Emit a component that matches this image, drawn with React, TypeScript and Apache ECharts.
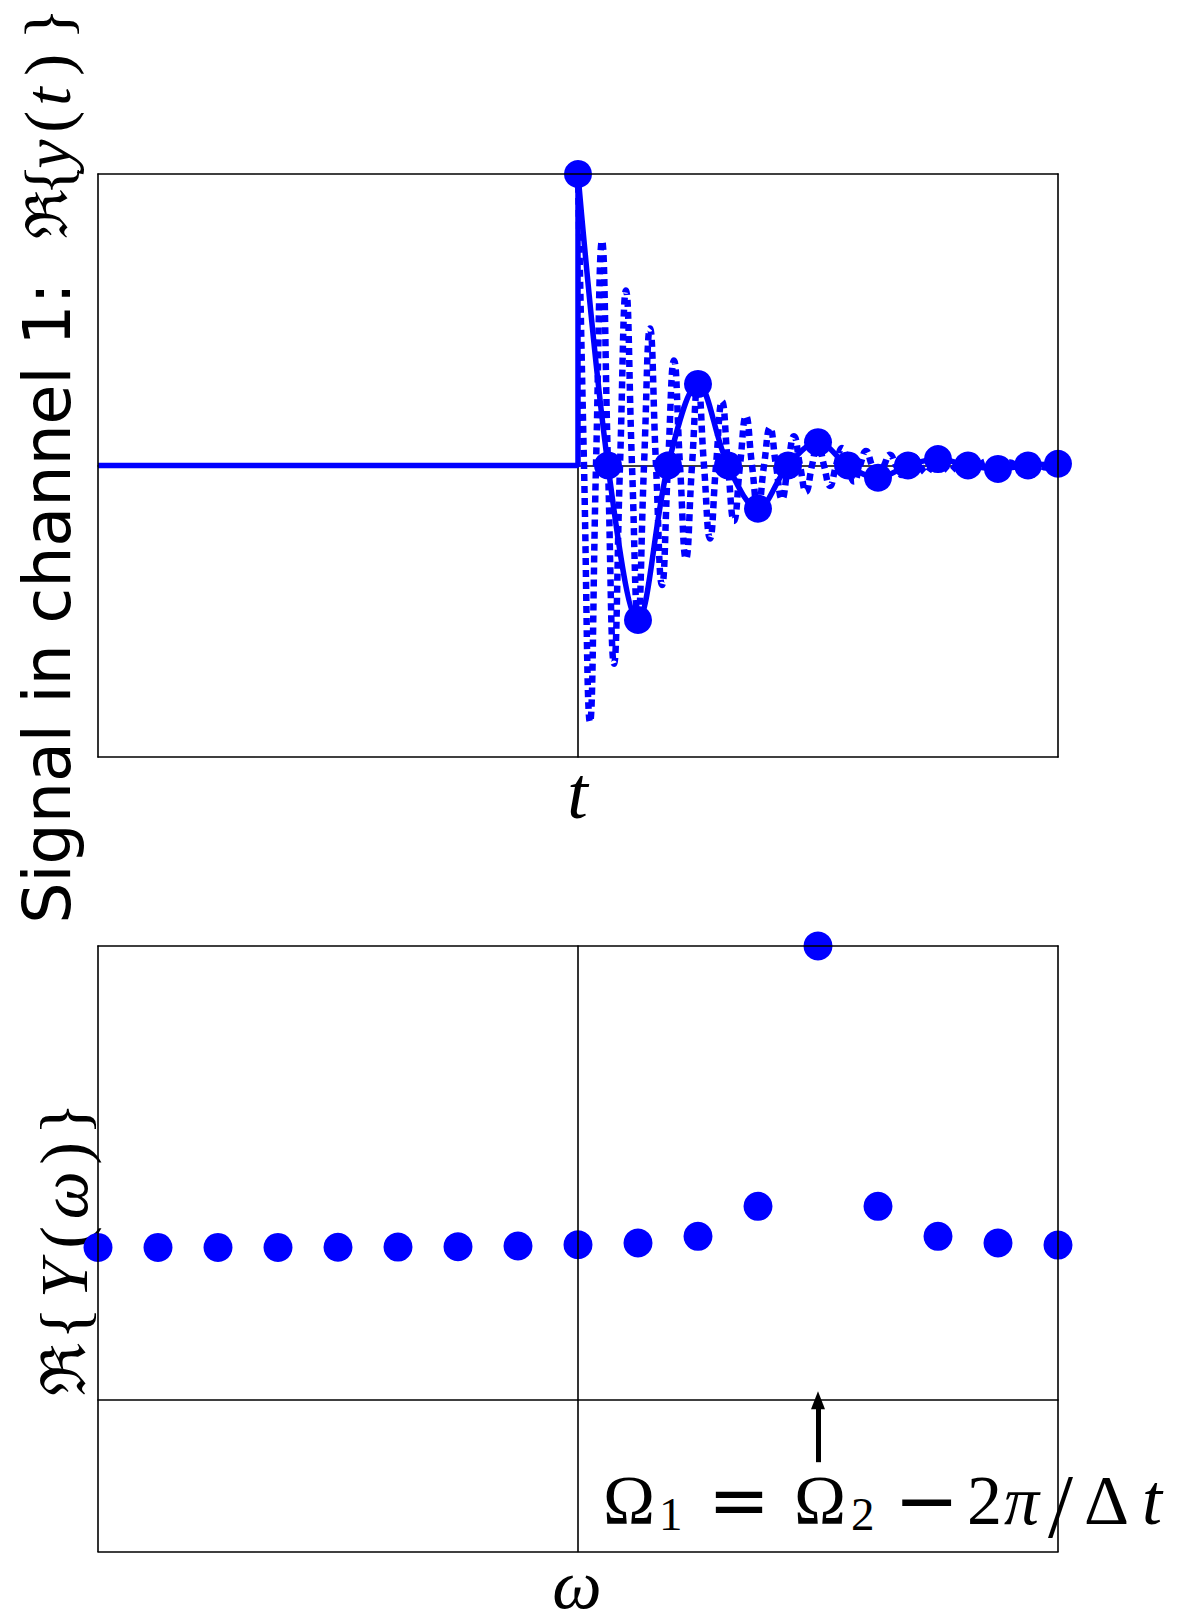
import React, { useEffect, useRef } from "react";
import * as echarts from "echarts";

// ---------- data ----------
// top panel: sampled points y[n] (n = 0..16, in units of Δt)
const sampleT = [0, 1, 2, 3, 4, 5, 6, 7, 8, 9, 10, 11, 12, 13, 14, 15, 16];
const sampleY = [1.0, 0, -0.53, 0, 0.28, 0, -0.148, 0, 0.08, 0, -0.042, 0, 0.022, 0, -0.012, 0, 0.006];
// signal before t = 0 and the jump at t = 0
const preT = [-16, 0, 0];
const preY = [0, 0, 1];
// continuous (fast) signal: extrema and zero crossings
const dashT = [
  0, 0.2, 0.4, 0.6, 0.8, 1.0, 1.2, 1.4, 1.6, 1.8, 2.0, 2.2, 2.4, 2.6, 2.8, 3.0, 3.2, 3.4, 3.6, 3.8,
  4.0, 4.2, 4.4, 4.6, 4.8, 5.0, 5.2, 5.4, 5.6, 5.8, 6.0, 6.2, 6.4, 6.6, 6.8, 7.0, 7.2, 7.4, 7.6, 7.8,
  8.0, 8.2, 8.4, 8.6, 8.8, 9.0, 9.2, 9.4, 9.6, 9.8, 10.0, 10.2, 10.4, 10.6, 10.8, 11.0, 11.2, 11.4, 11.6, 11.8,
  12.0, 12.2, 12.4, 12.6, 12.8, 13.0, 13.2, 13.4, 13.6, 13.8, 14.0, 14.2, 14.4, 14.6, 14.8, 15.0, 15.2, 15.4, 15.6, 15.8,
  16.0,
];
const dashY = [
  1.0, 0, -0.88, 0, 0.77, 0, -0.68, 0, 0.6, 0, -0.53, 0, 0.47, 0, -0.41, 0, 0.36, 0, -0.32, 0,
  0.28, 0, -0.25, 0, 0.22, 0, -0.19, 0, 0.17, 0, -0.15, 0, 0.13, 0, -0.115, 0, 0.1, 0, -0.09, 0,
  0.08, 0, -0.07, 0, 0.06, 0, -0.055, 0, 0.05, 0, -0.042, 0, 0.037, 0, -0.033, 0, 0.029, 0, -0.025, 0,
  0.022, 0, -0.019, 0, 0.017, 0, -0.015, 0, 0.013, 0, -0.012, 0, 0.01, 0, -0.009, 0, 0.008, 0, -0.007, 0,
  0.006,
];
// bottom panel: real part of the spectrum
const omega = [-8, -7, -6, -5, -4, -3, -2, -1, 0, 1, 2, 3, 4, 5, 6, 7, 8];
const spectrum = [1.009, 1.009, 1.009, 1.009, 1.01, 1.011, 1.013, 1.018, 1.026, 1.038, 1.082, 1.28, 3.0, 1.28, 1.082, 1.038, 1.024];
// annotation arrow (ω position, start value, end value)
const arrowOmega = 4;
const arrowFrom = -0.41;
const arrowTo = 0;

const topXRange = [-16, 16];
const topYRange = [-1, 1];
const botXRange = [-8, 8];
const botYRange = [-1, 3];

const BLUE = "#0000ff";
const SERIF = "'Liberation Serif', 'DejaVu Serif', serif";
const SANS = "'DejaVu Sans', sans-serif";

function axis(gridIndex: number, position: string, range: number[], onZero: boolean, z: number) {
  return {
    gridIndex,
    type: "value",
    position,
    min: range[0],
    max: range[1],
    axisLine: { show: true, onZero, lineStyle: { color: "#000", width: 1.6 } },
    axisTick: { show: false },
    axisLabel: { show: false },
    splitLine: { show: false },
    z,
  };
}

export default function App() {
  const ref = useRef<HTMLDivElement>(null);
  useEffect(() => {
    document.body.style.margin = "0";
    const chart = echarts.init(ref.current as HTMLDivElement, null, { renderer: "svg" });

    const preData = preT.map((t, i) => [t, preY[i]]);
    const sampledData = sampleT.map((t, i) => [t, sampleY[i]]);
    const dashData = dashT.map((t, i) => [t, dashY[i]]);
    const specData = omega.map((w, i) => [w, spectrum[i]]);

    const option: any = {
      animation: false,
      backgroundColor: "#fff",
      grid: [
        { left: 98, top: 174, width: 960, height: 583, show: false },
        { left: 98, top: 946, width: 960, height: 605.5, show: false },
      ],
      xAxis: [
        axis(0, "bottom", topXRange, true, 0),
        axis(0, "top", topXRange, false, 10),
        axis(0, "bottom", topXRange, false, 10),
        axis(1, "bottom", botXRange, true, 10),
        axis(1, "top", botXRange, false, 10),
        axis(1, "bottom", botXRange, false, 10),
      ],
      yAxis: [
        axis(0, "left", topYRange, true, 0),
        axis(0, "left", topYRange, false, 10),
        axis(0, "right", topYRange, false, 10),
        axis(1, "left", botYRange, true, 10),
        axis(1, "left", botYRange, false, 10),
        axis(1, "right", botYRange, false, 10),
      ],
      series: [
        {
          name: "before t=0",
          type: "line",
          xAxisIndex: 0,
          yAxisIndex: 0,
          data: preData,
          symbol: "none",
          lineStyle: { color: BLUE, width: 5.5 },
          z: 2,
        },
        {
          name: "sampled",
          type: "line",
          xAxisIndex: 0,
          yAxisIndex: 0,
          data: sampledData,
          symbol: "none",
          smooth: 0.35,
          lineStyle: { color: BLUE, width: 5.5 },
          z: 2,
        },
        {
          name: "continuous",
          type: "line",
          xAxisIndex: 0,
          yAxisIndex: 0,
          data: dashData,
          symbol: "none",
          smooth: 0.5,
          lineStyle: { color: BLUE, width: 6.5, type: [7, 5] },
          z: 2,
        },
        {
          name: "samples",
          type: "scatter",
          xAxisIndex: 0,
          yAxisIndex: 0,
          data: sampledData,
          symbol: "circle",
          symbolSize: 28,
          itemStyle: { color: BLUE, opacity: 1 },
          clip: false,
          z: 3,
        },
        {
          name: "spectrum",
          type: "scatter",
          xAxisIndex: 3,
          yAxisIndex: 3,
          data: specData,
          symbol: "circle",
          symbolSize: 29,
          itemStyle: { color: BLUE, opacity: 1 },
          clip: false,
          z: 3,
          markLine: {
            silent: true,
            symbol: ["none", "triangle"],
            symbolSize: [14, 18],
            label: { show: false },
            lineStyle: { color: "#000", width: 5, type: "solid", opacity: 1 },
            itemStyle: { color: "#000" },
            data: [[{ coord: [arrowOmega, arrowFrom] }, { coord: [arrowOmega, arrowTo] }]],
          },
        },
      ],
      graphic: [
        {
          type: "text",
          x: 47,
          y: 466,
          rotation: Math.PI / 2,
          style: {
            text: "{s|Signal in channel 1:}{r|ℜ}{lb|{}{iy|y}{lp|(}{it|t}{rp|)}}",
            font: `66px ${SERIF}`,
            fill: "#000",
            align: "center",
            verticalAlign: "middle",
            rich: {
              s: { fontFamily: SANS, fontSize: 65, width: 685, align: "left" },
              r: { fontFamily: SERIF, fontSize: 58, width: 43, align: "left" },
              lb: { fontFamily: SERIF, fontSize: 66, width: 27, align: "left" },
              iy: { fontFamily: SERIF, fontStyle: "italic", fontSize: 66, width: 36, align: "left" },
              lp: { fontFamily: SERIF, fontSize: 66, width: 27, align: "left" },
              it: { fontFamily: SERIF, fontStyle: "italic", fontSize: 66, width: 30, align: "left" },
              rp: { fontFamily: SERIF, fontSize: 66, width: 36, align: "left" },
            },
          },
        },
        {
          type: "text",
          x: 64,
          y: 1249,
          rotation: Math.PI / 2,
          style: {
            text: "{r|ℜ}{lb|{}{iy|Y}{lp|(}{iw|ω}{rp|)}}",
            font: `68px ${SERIF}`,
            fill: "#000",
            align: "center",
            verticalAlign: "middle",
            rich: {
              r: { fontFamily: SERIF, fontSize: 62, width: 52 },
              lb: { fontFamily: SERIF, fontSize: 68, width: 40 },
              iy: { fontFamily: SERIF, fontStyle: "italic", fontSize: 68, width: 48 },
              lp: { fontFamily: SERIF, fontSize: 68, width: 36 },
              iw: { fontFamily: SERIF, fontStyle: "italic", fontSize: 68, width: 48 },
              rp: { fontFamily: SERIF, fontSize: 68, width: 36 },
            },
          },
        },
        {
          type: "text",
          x: 577.5,
          y: 793,
          style: {
            text: "t",
            font: `italic 74px ${SERIF}`,
            fill: "#000",
            align: "center",
            verticalAlign: "middle",
          },
        },
        {
          type: "text",
          x: 577,
          y: 1584,
          style: {
            text: "ω",
            font: `italic 70px ${SERIF}`,
            lineHeight: 44,
            fill: "#000",
            align: "center",
            verticalAlign: "middle",
          },
        },
        {
          type: "text",
          x: 603,
          y: 1500,
          style: {
            text: "{O|Ω}{a|1}{eq|=}{P|Ω}{b|2}{mi|−}{n|2}{pi|π}{sl|/}{D|Δ}{t|t}",
            font: `70px ${SERIF}`,
            fill: "#000",
            align: "left",
            verticalAlign: "middle",
            rich: {
              O: { fontFamily: SERIF, fontSize: 70, width: 56, lineHeight: 80 },
              a: { fontFamily: SERIF, fontSize: 47, width: 49, lineHeight: 40, padding: [28, 0, 0, 0] },
              eq: { fontFamily: SANS, fontSize: 74, width: 86, lineHeight: 80 },
              P: { fontFamily: SERIF, fontSize: 70, width: 57, lineHeight: 80 },
              b: { fontFamily: SERIF, fontSize: 47, width: 43, lineHeight: 40, padding: [28, 0, 0, 0] },
              mi: { fontFamily: SANS, fontSize: 78, width: 73, lineHeight: 80 },
              n: { fontFamily: SERIF, fontSize: 70, width: 37, lineHeight: 80 },
              pi: { fontFamily: SERIF, fontStyle: "italic", fontSize: 70, width: 44, lineHeight: 80 },
              sl: { fontFamily: SERIF, fontSize: 90, width: 36, lineHeight: 90, padding: [12, 0, 0, 0] },
              D: { fontFamily: SERIF, fontSize: 70, width: 58, lineHeight: 80 },
              t: { fontFamily: SERIF, fontStyle: "italic", fontSize: 72, width: 35, lineHeight: 80 },
            },
          },
        },
      ],
    };
    chart.setOption(option);
    return () => chart.dispose();
  }, []);
  return <div ref={ref} style={{ width: 1179, height: 1620 }} />;
}
